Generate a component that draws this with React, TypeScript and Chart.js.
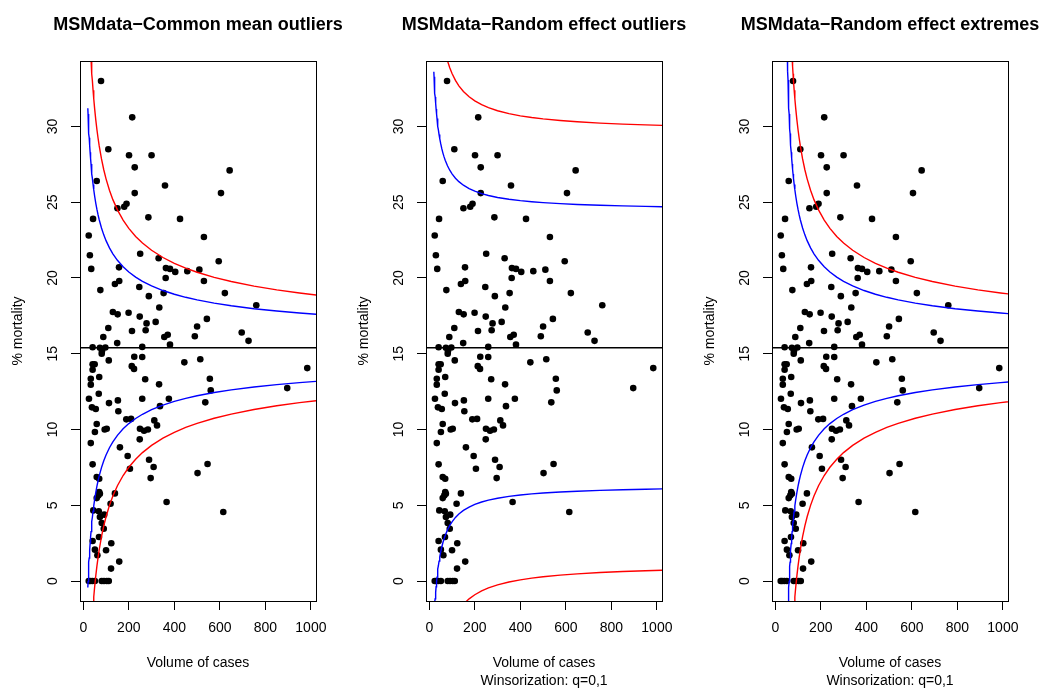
import React, { useEffect, useRef } from "react";
import { Chart, registerables } from "chart.js";

Chart.register(...registerables);

// ---- data ----
const volume: number[] = [
  78, 215, 110, 201, 300, 226, 59, 359, 226, 150, 180, 190, 643, 605, 43, 286, 425, 24, 29, 250,
  331, 35, 157, 363, 381, 404, 457, 510, 362, 75, 139, 158, 246, 288, 353, 334, 130, 151, 199, 248,
  278, 318, 110, 214, 274, 88, 149, 356, 371, 381, 490, 500, 530, 595, 530, 622, 760, 543, 696, 726,
  41, 73, 97, 259,
  82, 81, 224, 259, 112, 444, 41, 50, 41, 213, 223, 70, 33, 33, 272, 333, 68, 25, 259, 376,
  113, 152, 38, 55, 154, 337, 189, 210, 312, 324, 249, 267, 284, 59, 51, 94, 103, 248, 33, 161,
  195, 289, 41, 309, 514, 984, 556, 560, 896, 536, 546, 296, 205, 59, 70, 70, 73, 66, 59, 139,
  502, 366, 120, 44, 68, 92, 73, 81, 90, 69, 41, 123, 51, 100, 62, 158, 122, 615,
  24, 30, 40, 51, 81, 91, 103, 112,
];
const mortality: number[] = [
  33.0, 30.6, 28.5, 28.1, 28.1, 27.3, 26.4, 26.1, 25.6, 24.6, 24.7, 24.9, 27.1, 25.6, 23.9, 24.0, 23.9, 22.8, 21.5, 21.6,
  21.3, 20.6, 20.7, 20.65, 20.6, 20.4, 20.45, 20.55, 20.0, 19.2, 19.6, 19.8, 19.4, 18.8, 19.0, 18.05, 17.75, 17.6, 17.7, 17.45,
  17.0, 17.1, 16.7, 16.5, 16.55, 16.1, 15.7, 16.1, 16.25, 15.6, 16.15, 16.8, 22.7, 21.1, 19.8, 19.0, 18.2, 17.3, 16.4, 15.85,
  15.43, 15.39, 15.41, 15.45,
  15.17, 15.0, 14.8, 14.78, 14.56, 14.43, 14.3, 14.3, 13.94, 14.18, 14.0, 13.46, 13.35, 12.96, 13.32, 12.98, 12.36, 12.03, 12.03, 12.03,
  11.74, 11.92, 11.46, 11.35, 11.2, 11.54, 10.67, 10.7, 10.6, 10.27, 10.05, 9.92, 10.0, 10.36, 9.83, 10.0, 10.05, 9.35, 9.1, 8.82,
  8.25, 8.0, 7.7, 7.52, 14.64, 14.05, 13.35, 12.58, 12.73, 11.79, 7.72, 6.79, 7.41, 6.86, 6.75, 5.87, 5.76, 5.65, 5.47, 5.78,
  7.12, 5.21, 5.1, 4.66, 4.6, 4.38, 4.22, 3.83, 3.45, 2.9, 2.64, 2.49, 2.07, 2.03, 1.7, 1.28, 0.82, 4.55,
  0, 0, 0, 0, 0, 0, 0, 0,
];

const xTickValues = [0, 200, 400, 600, 800, 1000];
const yTickValues = [0, 5, 10, 15, 20, 25, 30];

const panelTitles = [
  "MSMdata\u2212Common mean outliers",
  "MSMdata\u2212Random effect outliers",
  "MSMdata\u2212Random effect extremes",
];
const xAxisTitles = [
  ["Volume of cases"],
  ["Volume of cases", "Winsorization: q=0,1"],
  ["Volume of cases", "Winsorization: q=0,1"],
];
const yAxisTitle = "% mortality";

// funnel parameters
const overallMean = 15.39; // % mortality
const zInner = 1.96;
const zOuter = 3.09;
const tau2ByPanel = [0, 21.3, 0]; // between-unit variance (%^2)
const volumeShiftByPanel = [0, 0, 40]; // effective-volume offset of the limits
const curveStartByPanel = [20, 20, 8];
const curveVolumes = [
  8, 9, 10, 11, 12, 13, 14, 15, 16, 17, 18, 19, 20, 21, 22, 23, 24, 25, 26, 28, 30, 32, 34, 36, 38,
  40, 43, 46, 50, 55, 60, 65, 70, 80, 90, 100, 115, 130, 150, 175, 200, 230, 260, 300, 350, 400,
  450, 500, 575, 650, 750, 850, 950, 1050,
];

const xRange = [-14.4, 1022.4];
const yRange = [-1.32, 34.32];

const FONT = "'Liberation Sans', Arial, Helvetica, sans-serif";
const PANEL_STEP = 346;
const CANVAS_W = 396;

function limitCurve(panel: number, z: number, sign: number) {
  const tau2 = tau2ByPanel[panel];
  const shift = volumeShiftByPanel[panel];
  return curveVolumes
    .filter((n) => n >= curveStartByPanel[panel])
    .map((n) => ({
      x: n + shift,
      y: overallMean + sign * z * Math.sqrt((overallMean * (100 - overallMean)) / n + tau2),
    }));
}

const boxPlugin = {
  id: "plotBox",
  afterDraw(chart: any) {
    const { ctx, chartArea: a } = chart;
    ctx.save();
    ctx.strokeStyle = "#000";
    ctx.lineWidth = 1;
    ctx.strokeRect(
      Math.round(a.left) + 0.5,
      Math.round(a.top) + 0.5,
      Math.round(a.right - a.left),
      Math.round(a.bottom - a.top)
    );
    ctx.restore();
  },
};

function makeConfig(i: number): any {
  const points = volume.map((v, k) => ({ x: v, y: mortality[k] }));
  const curve = (data: any[], color: string) => ({
    type: "scatter",
    data,
    showLine: true,
    borderColor: color,
    borderWidth: 1.4,
    pointRadius: 0,
    fill: false,
    tension: 0,
    yAxisID: "y",
  });
  return {
    type: "scatter",
    data: {
      datasets: [
        curve(limitCurve(i, zOuter, 1), "#ff0000"),
        curve(limitCurve(i, zOuter, -1), "#ff0000"),
        curve(limitCurve(i, zInner, 1), "#0000ff"),
        curve(limitCurve(i, zInner, -1), "#0000ff"),
        curve(
          [
            { x: xRange[0], y: overallMean },
            { x: xRange[1], y: overallMean },
          ],
          "#000000"
        ),
        {
          type: "scatter",
          data: points,
          pointRadius: 3.3,
          pointBackgroundColor: "#000",
          pointBorderWidth: 0,
          showLine: false,
          yAxisID: "y",
        },
      ],
    },
    options: {
      responsive: false,
      animation: false,
      events: [],
      layout: { padding: 0 },
      plugins: {
        legend: { display: false },
        tooltip: { enabled: false },
        title: {
          display: true,
          text: panelTitles[i],
          fullSize: true,
          color: "#000",
          font: { family: FONT, size: 18, weight: "bold", lineHeight: 1.2 },
          padding: { top: 14, bottom: 25.4 },
        },
      },
      scales: {
        x: {
          type: "linear",
          min: xRange[0],
          max: xRange[1],
          afterBuildTicks: (s: any) => {
            s.ticks = xTickValues.map((v) => ({ value: v }));
          },
          afterFit: (s: any) => {
            s.height = 89;
          },
          grid: {
            display: true,
            drawOnChartArea: false,
            drawTicks: true,
            tickLength: 9,
            color: "#000",
            lineWidth: 1,
          },
          border: { display: false },
          ticks: {
            font: { family: FONT, size: 14 },
            color: "#000",
            padding: 10,
            maxRotation: 0,
            autoSkip: false,
            callback: (v: any) => String(v),
          },
          title: {
            display: true,
            text: xAxisTitles[i],
            color: "#000",
            font: { family: FONT, size: 14, lineHeight: 1.3 },
            padding: { top: 0, bottom: xAxisTitles[i].length === 1 ? 18 : 0 },
          },
        },
        y: {
          type: "linear",
          position: "left",
          min: yRange[0],
          max: yRange[1],
          afterBuildTicks: (s: any) => {
            s.ticks = yTickValues.map((v) => ({ value: v }));
          },
          afterFit: (s: any) => {
            s.width = 80;
          },
          grid: {
            display: true,
            drawOnChartArea: false,
            drawTicks: true,
            tickLength: 9,
            color: "#000",
            lineWidth: 1,
          },
          border: { display: false },
          ticks: {
            font: { family: FONT, size: 14 },
            color: "#000",
            padding: 10,
            minRotation: 90,
            maxRotation: 90,
            crossAlign: "center",
            autoSkip: false,
            callback: (v: any) => String(v),
          },
          title: {
            display: true,
            text: yAxisTitle,
            color: "#000",
            font: { family: FONT, size: 14, lineHeight: 1.2 },
            padding: { top: 10, bottom: 0 },
          },
        },
        // empty right-hand margin (same width as the left axis) so the title centres over the plot
        ySpacer: {
          type: "linear",
          position: "right",
          display: true,
          min: yRange[0],
          max: yRange[1],
          afterFit: (s: any) => {
            s.width = CANVAS_W - 316;
          },
          grid: { display: false, drawTicks: false },
          border: { display: false },
          ticks: { display: false },
          title: { display: false },
        },
      },
    },
    plugins: [boxPlugin],
  };
}

function Panel({ index }: { index: number }) {
  const ref = useRef<HTMLCanvasElement>(null);
  useEffect(() => {
    if (!ref.current) return;
    const chart = new Chart(ref.current, makeConfig(index));
    return () => chart.destroy();
  }, [index]);
  return (
    <div
      style={{
        position: "absolute",
        left: index * PANEL_STEP,
        top: 0,
        width: CANVAS_W,
        height: 690,
        pointerEvents: "none",
      }}
    >
      <canvas ref={ref} width={CANVAS_W} height={690} style={{ display: "block" }} />
    </div>
  );
}

export default function App() {
  return (
    <div
      style={{
        position: "fixed",
        left: 0,
        top: 0,
        width: 1045,
        height: 690,
        background: "#fff",
        overflow: "hidden",
      }}
    >
      {[0, 1, 2].map((i) => (
        <Panel key={i} index={i} />
      ))}
    </div>
  );
}
